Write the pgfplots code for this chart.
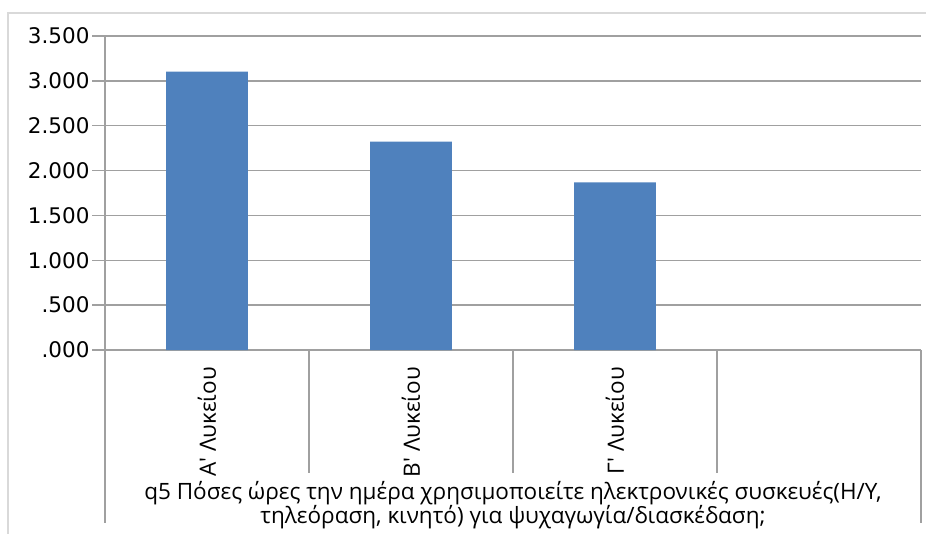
\documentclass[border=0pt]{standalone}
\usepackage{pgfplots}
\pgfplotsset{compat=1.18}
\usepackage{fontspec}
\setmainfont{Open Sans}
\newfontfamily\tickfont{DejaVu Sans}
\definecolor{barblue}{HTML}{4F81BD}
\definecolor{gridgray}{HTML}{A0A0A0}
\definecolor{framegray}{HTML}{D9D9D9}

\begin{document}
\begin{tikzpicture}[x=1pt,y=1pt]
\useasboundingbox (0,0) rectangle (926,533);
% outer chart frame
\draw[framegray, line width=1.2pt] (8,-5) -- (8,520) -- (935,520);
\begin{axis}[
  at={(105pt,183pt)}, anchor=south west,
  scale only axis, width=816pt, height=314pt,
  xmin=-0.5, xmax=3.5, ymin=0, ymax=3.5,
  axis x line*=bottom, axis y line*=left,
  axis line style={gridgray, line width=1.5pt, -},
  ytick={0,0.5,1,1.5,2,2.5,3,3.5},
  yticklabels={.000,.500,1.000,1.500,2.000,2.500,3.000,3.500},
  ymajorgrids, grid style={gridgray, line width=1.5pt},
  tick align=outside, major tick length=13pt,
  y tick style={gridgray, line width=1.5pt},
  yticklabel style={font=\tickfont\fontsize{21.5}{21.5}\selectfont, xshift=1pt},
  xtick={0,1,2},
  xticklabels={Α\textquotesingle\ Λυκείου, Β\textquotesingle\ Λυκείου, Γ\textquotesingle\ Λυκείου},
  x tick style={draw=none},
  xticklabel style={rotate=90, anchor=east, inner sep=0pt,
    font=\fontsize{22.5}{22.5}\selectfont},
  xticklabel shift=4pt,
  xlabel={q5 Πόσες ώρες την ημέρα χρησιμοποιείτε ηλεκτρονικές συσκευές(Η/Υ,\\τηλεόραση, κινητό) για ψυχαγωγία/διασκέδαση;},
  xlabel style={at={(axis description cs:0.5,0)}, anchor=north, yshift=-131pt,
    align=center, inner sep=0pt, font=\fontsize{22.5}{24}\selectfont},
  clip=false,
]
\addplot[ybar, bar width=0.4, fill=barblue, draw=none]
  coordinates {(0,3.102) (1,2.322) (2,1.869)};
% category separators below the axis
\draw[gridgray, line width=1.5pt] (axis cs:0.5,0) -- ([yshift=-123pt]axis cs:0.5,0);
\draw[gridgray, line width=1.5pt] (axis cs:1.5,0) -- ([yshift=-123pt]axis cs:1.5,0);
\draw[gridgray, line width=1.5pt] (axis cs:2.5,0) -- ([yshift=-123pt]axis cs:2.5,0);
\draw[gridgray, line width=1.5pt] (axis cs:-0.5,0) -- ([yshift=-173pt]axis cs:-0.5,0);
\draw[gridgray, line width=1.5pt] (axis cs:3.5,0) -- ([yshift=-173pt]axis cs:3.5,0);
\end{axis}
\end{tikzpicture}
\end{document}
